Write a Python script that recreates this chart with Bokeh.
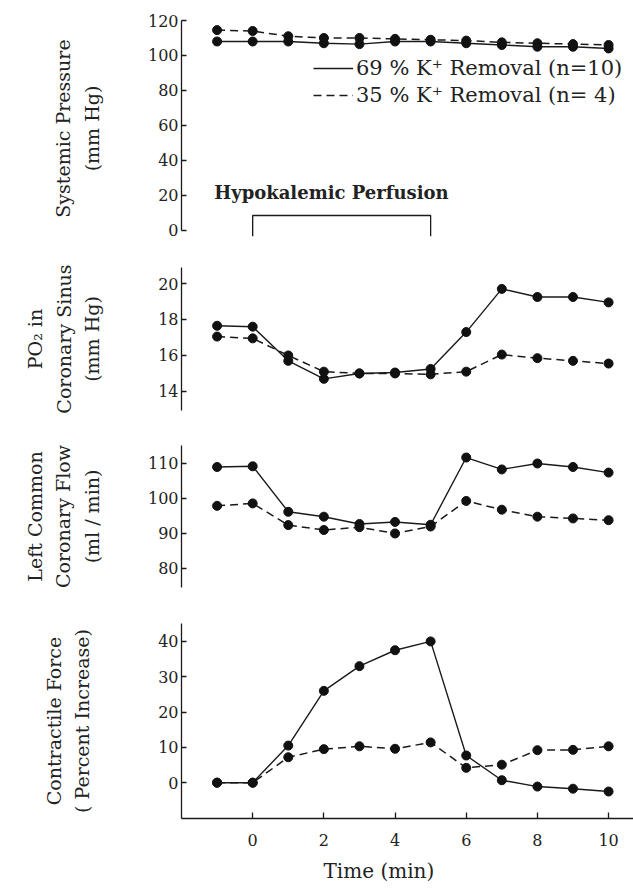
from bokeh.plotting import figure
from bokeh.layouts import column
from bokeh.models import Range1d, FixedTicker, Legend, LegendItem, Label, Title
from bokeh.embed import file_html
from bokeh.resources import INLINE

# Time points (min); hypokalemic perfusion runs from 0 to 5 min
time_min = [-1, 0, 1, 2, 3, 4, 5, 6, 7, 8, 9, 10]
perfusion_window = (0, 5)

# Systemic pressure (mm Hg)
pressure_69 = [108, 108, 108, 107, 106.5, 108, 108, 107, 106, 105, 105, 104]
pressure_35 = [114.5, 114, 111, 110, 110, 109.5, 109, 108.5, 107.5, 107, 106.5, 106]

# PO2 in coronary sinus (mm Hg)
po2_69 = [17.65, 17.6, 15.7, 14.7, 15.0, 15.05, 15.25, 17.3, 19.7, 19.25, 19.25, 18.95]
po2_35 = [17.05, 16.95, 16.0, 15.1, 15.0, 15.0, 14.95, 15.1, 16.05, 15.85, 15.7, 15.55]

# Left common coronary flow (ml/min)
flow_69 = [109, 109.2, 96.2, 94.8, 92.7, 93.3, 92.5, 111.7, 108.3, 110, 109, 107.4]
flow_35 = [97.9, 98.6, 92.4, 91.0, 91.8, 90.0, 92.0, 99.3, 96.8, 94.8, 94.3, 93.8]

# Contractile force (percent increase)
force_69 = [0, 0, 10.5, 26, 33, 37.5, 40, 7.7, 0.7, -1.1, -1.7, -2.5]
force_35 = [0, 0, 7.2, 9.5, 10.3, 9.6, 11.4, 4.2, 5.1, 9.2, 9.3, 10.3]

label_69 = "69 % K\u207a Removal (n=10)"
label_35 = "35 % K\u207a Removal (n= 4)"

SERIF = "DejaVu Serif"
INK = "#1a1a1a"
TEXT = "#222222"

x_range = Range1d(-2.0, 10.7)


def make_panel(height, y_rng, ticks, top, bottom, ylabel, standoff, show_x=False):
    p = figure(width=633, height=height, x_range=x_range,
               y_range=Range1d(*y_rng), output_backend="svg",
               toolbar_location=None,
               x_axis_location="below" if show_x else None,
               min_border_left=181, min_border_right=0,
               min_border_top=top, min_border_bottom=bottom)
    p.outline_line_color = None
    p.xgrid.visible = False
    p.ygrid.visible = False
    p.background_fill_color = "white"
    p.border_fill_color = "white"

    ax = p.yaxis[0]
    ax.ticker = FixedTicker(ticks=ticks)
    ax.major_tick_in = 5
    ax.major_tick_out = 0
    ax.minor_tick_line_color = None
    ax.axis_line_color = INK
    ax.axis_line_width = 1.3
    ax.major_tick_line_color = INK
    ax.major_tick_line_width = 1.3
    ax.major_label_text_font = SERIF
    ax.major_label_text_font_size = "16px"
    ax.major_label_text_color = TEXT
    ax.major_label_standoff = 3
    ax.axis_label = ylabel
    ax.axis_label_text_font = SERIF
    ax.axis_label_text_font_size = "19px"
    ax.axis_label_text_font_style = "normal"
    ax.axis_label_text_color = TEXT
    ax.axis_label_text_line_height = 1.3
    ax.axis_label_standoff = standoff
    return p


def draw_series(p, y69, y35):
    r69 = p.line(time_min, y69, line_color=INK, line_width=1.4)
    r35 = p.line(time_min, y35, line_color=INK, line_width=1.5,
                 line_dash="8 5")
    p.scatter(time_min, y69, size=9, color="#111111")
    p.scatter(time_min, y35, size=9, color="#111111")
    return r69, r35


# Systemic pressure
p1 = make_panel(250, (-3.5, 120), [0, 20, 40, 60, 80, 100, 120], 20, 14,
                "Systemic Pressure\n(mm Hg)", 42)
p1.yaxis[0].bounds = (0, 120)
s69, s35 = draw_series(p1, pressure_69, pressure_35)

# bracket marking the hypokalemic perfusion period
t0, t1 = perfusion_window
bracket_top = 8.5
p1.line([t0, t0, t1, t1], [-3.5, bracket_top, bracket_top, -3.5],
        line_color=INK, line_width=1.3)
p1.add_layout(Label(x=(t0 + t1) / 2 - 0.2, y=21.7, text="Hypokalemic  Perfusion",
                    text_font=SERIF, text_font_size="18px",
                    text_font_style="bold", text_color=TEXT,
                    text_align="center", text_baseline="middle"))

legend = Legend(items=[LegendItem(label=label_69, renderers=[s69]),
                       LegendItem(label=label_35, renderers=[s35])],
                location=(132, 129), padding=0, margin=0, spacing=3,
                glyph_width=40, glyph_height=18, label_height=18,
                label_standoff=3, border_line_color=None,
                background_fill_alpha=0,
                label_text_font=SERIF, label_text_font_size="21px",
                label_text_color=TEXT)
p1.add_layout(legend)

# PO2 in coronary sinus
p2 = make_panel(180, (12.94, 20.89), [14, 16, 18, 20], 17, 20,
                "PO\u2082 in\nCoronary Sinus\n(mm Hg)", 52)
draw_series(p2, po2_69, po2_35)

# Left common coronary flow
p3 = make_panel(170, (74.57, 115.14), [80, 90, 100, 110], 15, 13,
                "Left Common\nCoronary Flow\n(ml / min)", 42)
draw_series(p3, flow_69, flow_35)

# Contractile force
p4 = make_panel(291, (-10.14, 45.07), [0, 10, 20, 30, 40], 23, 72,
                "Contractile Force\n( Percent Increase)", 62, show_x=True)
draw_series(p4, force_69, force_35)
xa = p4.xaxis[0]
xa.ticker = FixedTicker(ticks=[0, 2, 4, 6, 8, 10])
xa.major_tick_in = 6
xa.major_tick_out = 0
xa.minor_tick_line_color = None
xa.axis_line_color = INK
xa.axis_line_width = 1.3
xa.major_tick_line_color = INK
xa.major_tick_line_width = 1.3
xa.major_label_text_font = SERIF
xa.major_label_text_font_size = "16px"
xa.major_label_text_color = TEXT
xa.major_label_standoff = 15
p4.add_layout(Title(text="Time (min)", align="left", offset=142,
                    text_font=SERIF, text_font_size="20px",
                    text_font_style="normal", text_color=TEXT,
                    standoff=17), "below")

layout = column(p1, p2, p3, p4, spacing=0)
open("out.html", "w").write(file_html(layout, INLINE))
